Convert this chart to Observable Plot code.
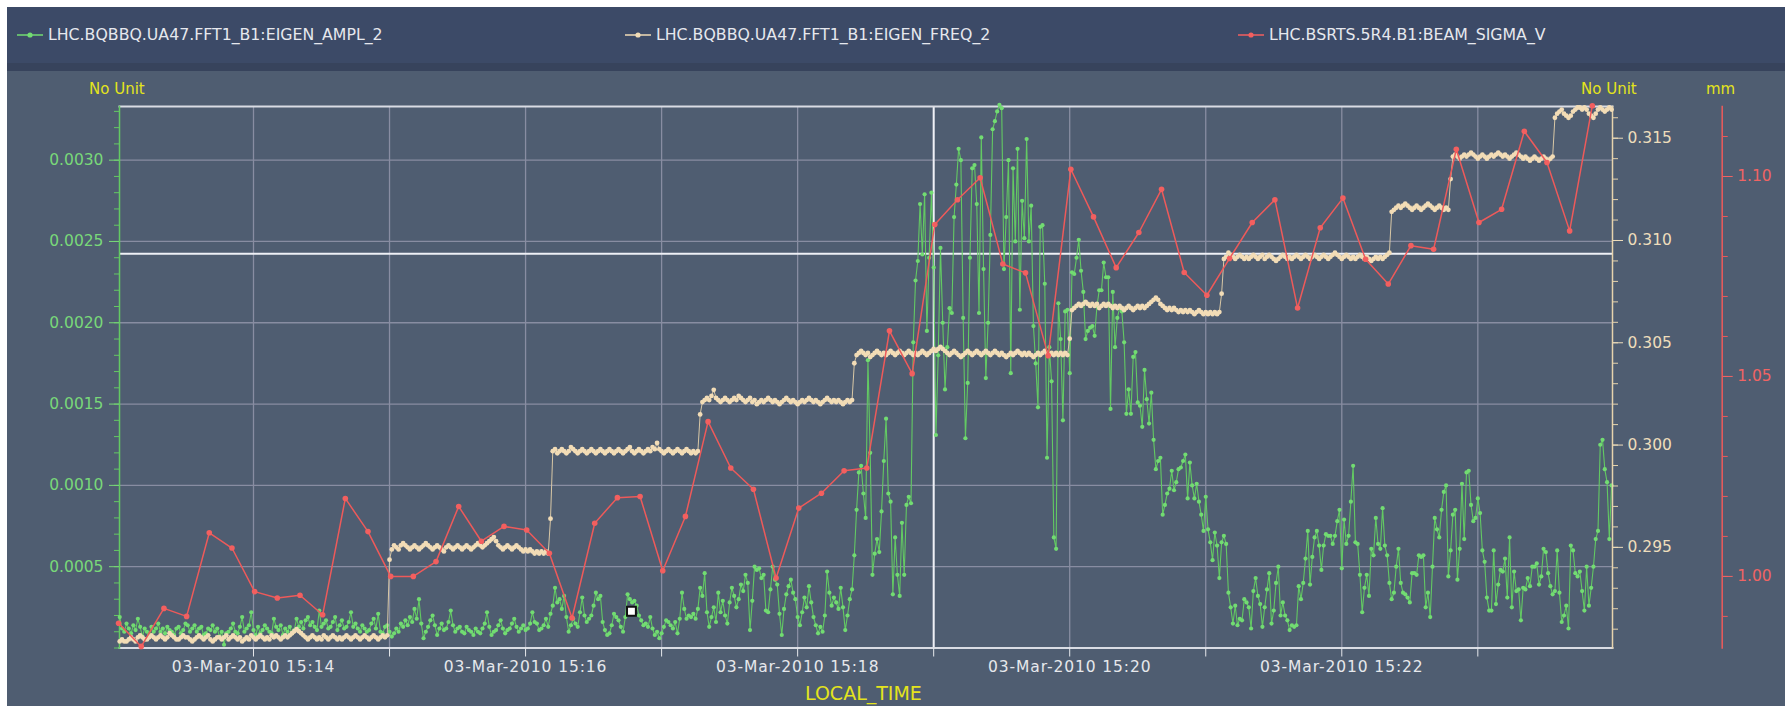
<!DOCTYPE html>
<html>
<head>
<meta charset="utf-8">
<script src="https://cdn.jsdelivr.net/npm/d3@7"></script>
<script src="https://cdn.jsdelivr.net/npm/@observablehq/plot@0.6"></script>
<style>
  html,body{margin:0;padding:0;background:#ffffff;}
  body{width:1785px;height:706px;position:relative;overflow:hidden;font-family:"DejaVu Sans",sans-serif;}
  #panel{position:absolute;left:7px;top:7px;right:0;bottom:0;background:#4f5d71;}
  #header{position:absolute;left:7px;top:7px;right:0;height:56px;background:#3c4a67;}
  #band{position:absolute;left:7px;top:63px;right:0;height:8px;background:#37435c;}
  .leg{position:absolute;top:25.5px;height:18px;line-height:18px;display:flex;align-items:center;color:#e6e8ee;font-size:15.75px;white-space:nowrap;}
  .leg svg{margin-right:5px;display:block}
  .unit{position:absolute;color:#e4e41c;font-size:15px;line-height:18px;top:80px;white-space:nowrap;}
  #xlabel{position:absolute;left:805px;top:682px;color:#e4e41c;font-size:19px;line-height:22px;white-space:nowrap;}
  #chart{position:absolute;left:0;top:0;width:1785px;height:706px;}
  #chart svg{position:absolute;left:0;top:0;}
  #chart g[aria-label="x-axis tick label"] text{letter-spacing:0.9px;}
</style>
</head>
<body>
<div id="panel"></div>
<div id="header"></div>
<div id="band"></div>
<div id="legend"></div>
<div id="chart"></div>
<div class="unit" style="left:89px">No Unit</div>
<div class="unit" style="left:1581px">No Unit</div>
<div class="unit" style="left:1706px">mm</div>
<div id="xlabel">LOCAL_TIME</div>
<script>
// ---------------- data ----------------
const seriesNames = [
  "LHC.BQBBQ.UA47.FFT1_B1:EIGEN_AMPL_2",
  "LHC.BQBBQ.UA47.FFT1_B1:EIGEN_FREQ_2",
  "LHC.BSRTS.5R4.B1:BEAM_SIGMA_V"
];
const startUTC = Date.UTC(2010, 2, 3, 15, 13, 0);   // 03-Mar-2010 15:13:00
const bbqOffsetSec = 1, bbqStepSec = 1;            // BBQ samples: 15:13:01 ... 15:23:59
const sigmaOffsetSec = 0.5, sigmaStepSec = 10;     // BSRT samples

// EIGEN_AMPL_2, in units of 1e-4 (one value per second)
const amplE4 = [
  1.9,1.2,1.0,1.5,1.2,0.9,1.4,1.1,1.8,1.3, 0.7,1.2,1.0,0.8,1.3,1.0,1.2,1.5,1.0,1.2,
  0.9,1.3,1.1,1.0,0.8,1.2,1.3,0.9,1.1,1.5, 1.4,1.0,1.2,1.4,1.0,1.2,1.3,0.8,0.9,1.2,
  1.1,1.4,1.0,1.2,0.7,1.0,0.2,0.9,1.0,1.2, 1.5,1.0,0.9,1.3,1.9,1.0,1.2,1.4,2.2,1.1,
  0.8,1.3,0.9,1.1,1.4,1.2,1.0,0.9,1.8,1.3, 1.1,1.4,0.8,1.2,1.0,1.3,0.9,1.1,1.8,1.3,
  1.6,1.2,1.7,1.9,1.4,1.6,1.3,1.1,2.3,1.3, 1.5,1.7,1.2,1.3,1.6,1.9,1.1,1.4,1.7,1.2,
  1.3,1.6,2.2,1.3,1.5,1.2,1.0,1.4,1.2,1.0,
  1.1,1.5,1.8,1.2,2.1,1.0,0.9,1.3,1.4,1.0, 0.7,0.9,1.2,1.0,1.5,1.3,1.7,1.4,1.9,1.6,
  2.4,1.8,3.0,1.5,0.6,1.0,1.3,1.7,2.0,1.4, 0.8,1.2,1.5,1.1,1.2,1.6,2.3,1.4,1.0,1.2,
  1.3,1.0,0.9,1.3,1.1,1.0,0.8,1.2,1.0,0.9, 1.2,1.5,2.2,1.3,0.8,1.0,1.1,1.4,1.7,1.2,
  0.9,1.1,1.2,1.5,1.8,1.3,1.0,1.2,1.4,1.1, 1.2,1.5,2.2,1.6,1.5,1.1,1.2,1.4,1.8,1.3,
  2.1,2.6,3.7,2.8,3.0,2.4,3.2,1.9,1.0,1.4, 1.8,1.5,1.3,2.2,3.1,2.0,1.6,1.8,2.0,2.6,
  3.4,3.0,3.2,1.6,1.1,0.8,0.9,1.4,2.1,1.9,
  1.7,1.3,1.0,1.9,3.3,3.0,2.8,2.9,2.6,2.0, 1.7,1.4,1.5,1.3,1.9,1.2,0.8,1.0,0.6,0.9,
  1.3,1.7,1.6,1.4,1.2,1.6,0.9,1.8,3.4,2.4, 1.8,2.0,1.9,2.1,1.8,2.4,3.7,3.2,4.6,2.2,
  1.3,1.9,2.5,1.6,3.4,2.2,2.9,2.0,1.5,2.8, 3.7,3.2,2.5,3.0,3.9,3.5,4.5,4.0,1.1,2.9,
  5.0,4.8,4.9,4.3,4.5,2.3,2.2,3.6,5.0,4.2, 3.9,2.1,0.8,2.4,3.3,3.8,4.2,3.4,3.0,1.9,
  1.4,2.2,3.1,2.5,3.8,2.8,1.9,1.4,0.9,1.3, 1.0,2.0,4.7,3.4,2.6,3.1,2.8,2.4,3.7,2.5,
  1.1,2.0,3.0,3.6,5.7,8.5,10.8,11.2,9.5,8.0,
  17.7,12.0,4.5,5.8,6.7,5.9,8.4,11.5,14.1,9.5, 9.0,3.3,6.8,4.5,3.2,7.7,4.5,8.8,9.3,8.9,
  18.8,22.6,23.8,27.3,24.2,27.9,19.5,24.0,28.0,23.4, 13.1,18.0,24.6,20.0,15.9,18.5,20.9,20.6,26.5,28.5,
  30.7,30.0,20.3,12.9,16.3,24.0,29.5,29.7,27.3,20.6, 31.4,23.3,16.6,20.0,25.4,31.9,32.4,33.0,33.4,33.2,
  23.3,26.5,30.0,16.9,29.5,25.0,30.7,20.8,27.5,25.2, 31.3,25.0,27.2,19.8,17.5,14.8,25.9,26.0,22.4,11.7,
  18.5,16.4,6.8,6.1,21.2,19.0,14.0,20.7,20.8,16.9, 23.1,23.0,24.0,25.1,23.2,21.9,19.0,19.5,19.7,19.8,
  19.2,21.0,22.0,22.0,23.7,22.8,22.8,14.7,21.9,18.5,
  20.3,20.9,20.7,18.8,14.4,15.9,14.4,17.9,18.2,15.1, 14.9,13.6,17.1,15.3,13.8,15.7,12.8,11.0,11.5,11.7,
  8.2,8.8,9.5,9.8,10.9,9.7,10.2,11.0,11.1,11.5, 11.9,9.2,11.4,10.0,9.2,10.1,9.0,8.2,7.2,9.3,
  7.3,6.5,5.4,7.1,6.3,4.3,6.5,6.9,6.4,3.4, 2.5,1.5,2.6,1.4,1.8,1.7,3.0,2.8,2.5,1.2,
  3.5,4.3,3.2,2.7,1.3,2.5,3.6,4.6,1.5,2.3, 4.0,5.0,2.0,2.8,2.0,1.7,1.1,1.4,1.3,1.4,
  3.8,3.0,4.0,5.5,7.2,3.9,5.6,6.8,7.2,6.3, 4.8,6.3,7.0,6.9,6.9,6.4,6.9,7.8,8.5,4.9,
  7.9,6.4,6.9,9.0,11.2,6.5,6.4,4.5,2.2,3.7, 4.5,
  3.2,6.1,5.7,8.0,6.4,6.1,8.6,6.3,5.7,
  4.0,3.0,3.4,5.0,6.1,4.0,3.4,3.3,3.1,2.8, 4.6,4.6,4.5,5.7,5.6,5.7,2.5,3.4,1.9,5.0,
  8.0,7.3,6.8,8.5,9.6,10.0,4.4,6.0,8.2,8.5, 4.2,6.1,10.1,6.7,10.8,10.9,8.8,7.8,8.0,9.2,
  8.3,6.0,5.3,3.1,2.3,2.3,6.0,2.7,3.9,4.8, 4.7,5.5,3.1,6.8,2.5,4.7,3.5,3.6,1.7,3.7,
  3.6,4.3,3.8,5.0,5.0,5.2,3.9,4.4,6.1,5.9, 4.6,3.8,3.3,3.5,6.0,3.4,1.6,2.0,2.6,1.2,
  6.3,6.0,4.6,4.4,4.7,3.5,2.3,5.0,2.6,3.7, 5.0,6.7,7.2,12.5,12.8,11.0,10.2,6.7,10.0
];

// EIGEN_FREQ_2 (tune), in units of 1e-4 (one value per second)
const freqE4 = [
  2904,2905,2904,2904,2905,2906,2905,2904,2906,2907, 2906,2905,2905,2906,2907,2906,2905,2906,2907,2906,
  2905,2906,2908,2907,2906,2905,2905,2906,2907,2906, 2906,2905,2904,2905,2906,2907,2906,2905,2906,2907,
  2905,2904,2905,2906,2906,2905,2906,2907,2905,2906, 2907,2906,2905,2906,2904,2905,2906,2905,2907,2906,
  2905,2906,2907,2906,2905,2906,2905,2907,2906,2907, 2906,2905,2906,2907,2906,2907,2908,2909,2910,2909,
  2908,2907,2906,2905,2906,2907,2906,2905,2906,2905, 2907,2906,2905,2906,2907,2906,2905,2906,2905,2906,
  2907,2906,2905,2906,2907,2906,2905,2906,2907,2906, 2905,2906,2907,2906,2905,2906,2907,2906,2907,
  2944,
  2949,2951,2950,2949,2951,2952,2951,2950,2949,2950, 2951,2950,2949,2950,2951,2952,2951,2950,2949,2950,
  2951,2950,2949,2948,2950,2951,2950,2949,2950,2951, 2950,2949,2950,2951,2950,2949,2950,2951,2952,2951,
  2950,2951,2952,2953,2954,2955,2953,2951,2950,2949, 2950,2951,2950,2949,2950,2951,2950,2949,2948,2949,
  2948,2949,2948,2947,2948,2947,2948,2947,2948,2947,
  2964,
  2997,2998,2996,2997,2998,2997,2996,2997,2999,
  2998,2997,2996,2997,2998,2997,2996,2997,2998,2997, 2996,2997,2998,2997,2996,2997,2998,2997,2996,2997,
  2998,2997,2996,2997,2998,2999,2997,2996,2997,2998, 2997,2996,2997,2998,2997,2999,2998,3001,2998,2997,
  2996,2997,2998,2997,2996,2997,2998,2997,2996,2997, 2998,2997,2996,2997,2996,2997,
  3015,
  3021,3022,3023,3022,3024,3027,3023,3022,3021,3022, 3023,3022,3021,3022,3023,3022,3024,3023,3022,3021,
  3022,3023,3021,3022,3020,3021,3022,3021,3022,3023, 3022,3021,3022,3021,3020,3021,3022,3023,3022,3021,
  3022,3021,3020,3021,3022,3021,3022,3023,3022,3021, 3022,3021,3020,3021,3022,3023,3022,3021,3022,3021,
  3022,3021,3020,3021,3022,3021,3022,
  3040,
  3044,3045,3046,3045,3044,3045,3043,3044,3045,3046, 3045,3044,3045,3044,3045,3046,3045,3044,3045,3046,
  3045,3044,3045,3046,3045,3044,3045,3044,3045,3046, 3045,3044,3045,3046,3047,3046,3047,3048,3047,3046,
  3045,3044,3045,3046,3045,3044,3043,3044,3045,3046, 3045,3044,3045,3046,3045,3044,3045,3046,3045,3044,
  3045,3046,3045,3044,3045,3044,3043,3044,3045,3044, 3045,3046,3045,3044,3045,3044,3045,3044,3043,3044,
  3045,3044,3045,3046,3045,3044,3045,3044,3045,3044, 3045,3044,3045,3044,
  3052,
  3066,3067,3068,3069,3068,3069,3070,3069,3068,3069, 3068,3069,3067,3068,3069,3068,3069,3068,3067,3068,
  3067,3068,3067,3066,3067,3068,3067,3066,3067,3068, 3067,3068,3067,3068,3069,3070,3071,3072,3071,3069,
  3068,3067,3066,3067,3066,3067,3066,3065,3066,3065, 3066,3065,3066,3065,3064,3065,3066,3065,3064,3065,
  3064,3065,3064,3065,3064,3065,
  3074,
  3091,3092,3094,3093,3092,3091,3092,3093,3092,3091, 3092,3091,3092,3093,3092,3091,3092,3093,3091,3092,
  3093,3092,3091,3090,3091,3092,3093,3092,3091,3092, 3091,3092,3093,3092,3091,3092,3093,3092,3091,3092,
  3093,3092,3091,3092,3093,3092,3091,3092,3093,3094, 3093,3092,3091,3092,3093,3092,3091,3092,3091,3092,
  3093,3092,3091,3092,3091,3090,3091,3092,3091,3092, 3091,3092,3093,
  3094,
  3114,3115,3116,3117,3116,3117,3118,3117,3116,3115, 3116,3117,3116,3115,3116,3117,3118,3117,3116,3115,
  3116,3117,3116,3115,3116,3115,
  3130,
  3141,3142,3141,3140,3141,3142,3141,3142,3143,3142, 3141,3140,3141,3142,3141,3140,3141,3142,3141,3142,
  3143,3142,3141,3142,3141,3140,3141,3142,3143,3142, 3141,3140,3141,3140,3139,3140,3141,3140,3139,3140,
  3141,3140,3139,3140,3141,
  3160,3162,3163,3164,3162,3161,3160,3161,3163,3164, 3165,3165,3164,3165,3164,3162,3161,3160,3162,3164,
  3165,3164,3163,3164,3165,3164
];

// BEAM_SIGMA_V (mm), one value every 10 s
const sigma = [
  0.9883,0.9825,0.9920,0.9900,1.0109,1.0071,0.9962,0.9946,0.9953,0.9904,
  1.0195,1.0112,1.0000,1.0000,1.0037,1.0175,1.0088,1.0125,1.0116,1.0058,
  0.9896,1.0133,1.0197,1.0200,1.0014,1.0150,1.0387,1.0271,1.0218,0.9996,
  1.0171,1.0208,1.0264,1.0271,1.0614,1.0507,1.0880,1.0942,1.0997,1.0781,
  1.0759,1.0552,1.1018,1.0899,1.0772,1.0860,1.0968,1.0760,1.0703,1.0795,
  1.0885,1.0942,1.0671,1.0872,1.0946,1.0793,1.0731,1.0827,1.0818,1.1068,
  1.0885,1.0918,1.1113,1.1035,1.0864,1.1177
];

// axes / ticks
const ampTicks = [0.0005, 0.0010, 0.0015, 0.0020, 0.0025, 0.0030];
const freqTicks = [0.295, 0.300, 0.305, 0.310, 0.315];
const sigmaTicks = [1.00, 1.05, 1.10];
const ampDomain = [0, 0.00333];
const freqDomain = [0.29008, 0.31655];
const sigmaDomain = [0.9821, 1.1175];
const timeDomain = [new Date(startUTC + 900), new Date(startUTC + 659400)];

// cursor (crosshair) and marker
const cursorTime = [new Date(Date.UTC(2010, 2, 3, 15, 19, 0))];
const cursorAmp = [0.002425];
const markerPoint = [{t: new Date(Date.UTC(2010, 2, 3, 15, 16, 46, 700)), v: 0.000226}];

// ---------------- styling ----------------
const C = {
  grid: "#888da2", frame: "#d9dce4", cross: "#eef0f6",
  green: "#63c963", greenDot: "#72dc72", greenText: "#79d879",
  beige: "#d9c8a6", beigeDot: "#f2dcb6", beigeText: "#eeddbc", beigeAxis: "#e6d3ad",
  red: "#ee5a5a", redDot: "#f35f5f", redText: "#f06464",
  xText: "#e6e8ec"
};
const colors = [C.greenDot, C.beigeDot, C.redDot];
const legendLeft = [17, 625, 1238];

// legend
const legend = document.getElementById("legend");
seriesNames.forEach((name, i) => {
  const d = document.createElement("div");
  d.className = "leg";
  d.style.left = legendLeft[i] + "px";
  d.innerHTML = `<svg width="26" height="10"><line x1="0" y1="5" x2="26" y2="5" stroke="${colors[i]}" stroke-width="1.5"/><circle cx="13" cy="5" r="2.6" fill="${colors[i]}"/></svg><span>${name}</span>`;
  legend.appendChild(d);
});

// ---------------- plots ----------------
const bbqTime = i => new Date(startUTC + (bbqOffsetSec + i * bbqStepSec) * 1000);
const amp = amplE4.map((v, i) => ({t: bbqTime(i), v: v * 1e-4}));
const fq = freqE4.map((v, i) => ({t: bbqTime(i), v: v * 1e-4}));
const sg = sigma.map((v, i) => ({t: new Date(startUTC + (sigmaOffsetSec + i * sigmaStepSec) * 1000), v}));

const FONT = '"DejaVu Sans", sans-serif';
const common = {
  width: 1785, height: 706,
  marginLeft: 119, marginRight: 173, marginTop: 106, marginBottom: 58.5,
  style: {background: "transparent", fontFamily: FONT, fontSize: "15.5px", overflow: "visible", maxWidth: "none"}
};
const fmtTime = d3.utcFormat("%d-%b-%Y %H:%M");
const RED_DX = 109.7;

const base = Plot.plot({
  ...common,
  x: {type: "utc", domain: timeDomain},
  y: {domain: ampDomain},
  marks: [
    Plot.gridY(ampTicks, {stroke: C.grid, strokeOpacity: 1, strokeWidth: 1.3}),
    Plot.gridX({ticks: d3.utcMinute.every(1), stroke: C.grid, strokeOpacity: 1, strokeWidth: 1.3}),
    Plot.ruleX(cursorTime, {stroke: C.cross, strokeWidth: 2}),
    Plot.ruleY(cursorAmp, {stroke: C.cross, strokeWidth: 2}),
    Plot.frame({anchor: "top", stroke: C.frame, strokeWidth: 2}),
    Plot.frame({anchor: "bottom", stroke: C.frame, strokeWidth: 2}),
    Plot.frame({anchor: "left", stroke: C.green, strokeWidth: 1.5}),
    Plot.axisY({ticks: 40, tickSize: 5, tickFormat: () => "", color: C.green, label: null}),
    Plot.axisY({ticks: ampTicks, tickSize: 10, tickPadding: 6, tickFormat: d3.format(".4f"), color: C.greenText, label: null}),
    Plot.axisX({ticks: d3.utcMinute.every(1), tickSize: 9, tickPadding: 3.5,
      tickFormat: d => d.getUTCMinutes() % 2 === 0 ? fmtTime(d) : "", color: C.xText, label: null}),
    Plot.line(amp, {x: "t", y: "v", stroke: C.green, strokeWidth: 1.1}),
    Plot.dot(amp, {x: "t", y: "v", r: 2.1, fill: C.greenDot}),
    Plot.dot(markerPoint, {x: "t", y: "v", symbol: "square", r: 5, fill: "white", stroke: "#111", strokeWidth: 2})
  ]
});

const beigeLayer = Plot.plot({
  ...common,
  x: {type: "utc", domain: timeDomain, axis: null},
  y: {domain: freqDomain, axis: null},
  marks: [
    Plot.frame({anchor: "right", stroke: C.beigeAxis, strokeWidth: 1.5}),
    Plot.axisY({anchor: "right", ticks: 27, tickSize: 5, tickFormat: () => "", color: C.beigeAxis, label: null}),
    Plot.axisY({anchor: "right", ticks: freqTicks, tickSize: 10, tickPadding: 5, tickFormat: d3.format(".3f"), color: C.beigeText, label: null}),
    Plot.line(fq, {x: "t", y: "v", stroke: C.beige, strokeWidth: 1}),
    Plot.dot(fq, {x: "t", y: "v", r: 2.4, fill: C.beigeDot})
  ]
});

const redLayer = Plot.plot({
  ...common,
  x: {type: "utc", domain: timeDomain, axis: null},
  y: {domain: sigmaDomain, axis: null},
  marks: [
    Plot.frame({anchor: "right", dx: RED_DX, stroke: C.red, strokeWidth: 1.5}),
    Plot.axisY({anchor: "right", dx: RED_DX, ticks: 14, tickSize: 5, tickFormat: () => "", color: C.red, label: null}),
    Plot.axisY({anchor: "right", dx: RED_DX, ticks: sigmaTicks, tickSize: 10, tickPadding: 5, tickFormat: d3.format(".2f"), color: C.redText, label: null}),
    Plot.line(sg, {x: "t", y: "v", stroke: C.red, strokeWidth: 1.5}),
    Plot.dot(sg, {x: "t", y: "v", r: 2.8, fill: C.redDot})
  ]
});

const chart = document.getElementById("chart");
chart.appendChild(base);
chart.appendChild(beigeLayer);
chart.appendChild(redLayer);
</script>
</body>
</html>
